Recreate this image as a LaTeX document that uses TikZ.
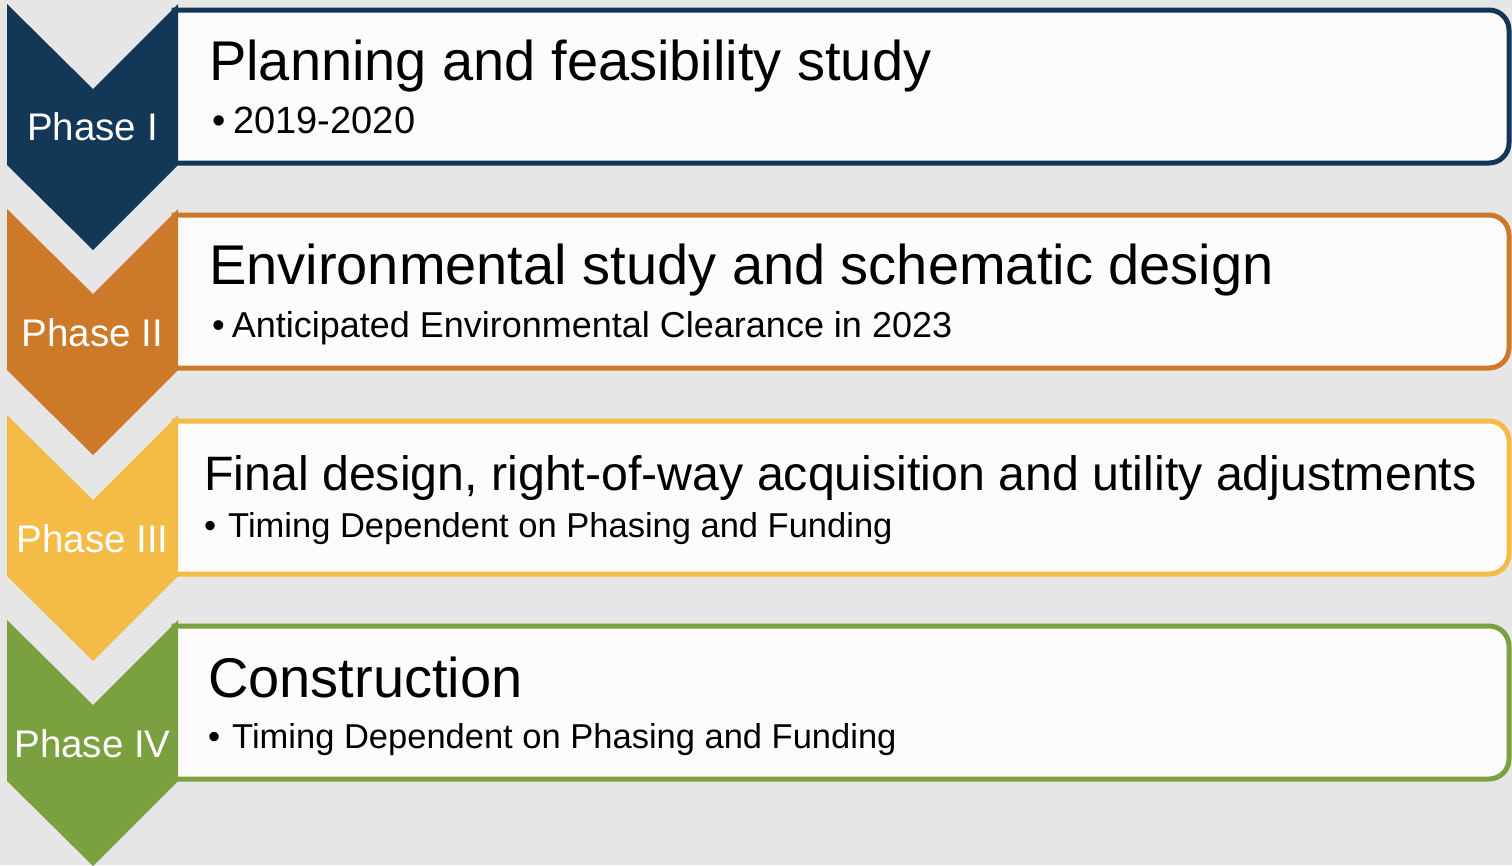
\documentclass[tikz,border=0pt]{standalone}
\usepackage{fontspec}
\setmainfont{Liberation Sans}
\usepackage{tikz}

\definecolor{phaseone}{HTML}{133757}
\definecolor{phasetwo}{HTML}{CC7A2A}
\definecolor{phasethree}{HTML}{F4BB47}
\definecolor{phasefour}{HTML}{7AA040}
\definecolor{backgray}{HTML}{E6E6E6}
\definecolor{boxwhite}{HTML}{FCFCFC}

\tikzset{
  chevron/.style={fill=#1, draw=none},
  stagebox/.style={draw=#1, fill=boxwhite, line width=5pt},
  phaselabel/.style={anchor=base, inner sep=0pt, text=white, font=\fontsize{38.5}{42}\selectfont},
  stagetitle/.style={anchor=base west, inner sep=0pt, font=\fontsize{56}{60}\selectfont},
  stagesub/.style={anchor=base west, inner sep=0pt, font=\fontsize{36}{40}\selectfont}
}

\begin{document}
\begin{tikzpicture}[x=1pt,y=-1pt]
  \useasboundingbox (0,0) rectangle (1512,865);
  \fill[backgray] (0,0) rectangle (1512,865);

  % boxes, right corners rounded
  \draw[stagebox=phaseone] (174,10) [rounded corners=20pt] -- (1509,10) -- (1509,163) [sharp corners] -- (174,163) -- cycle;
  \draw[stagebox=phasetwo] (174,215) [rounded corners=20pt] -- (1509,215) -- (1509,368) [sharp corners] -- (174,368) -- cycle;
  \draw[stagebox=phasethree] (174,421) [rounded corners=20pt] -- (1509,421) -- (1509,574) [sharp corners] -- (174,574) -- cycle;
  \draw[stagebox=phasefour] (174,626) [rounded corners=20pt] -- (1509,626) -- (1509,779) [sharp corners] -- (174,779) -- cycle;

  % chevrons
  \fill[chevron=phaseone] (7,4) -- (93,89) -- (178,4) -- (178,165) -- (93,250) -- (7,165) -- cycle;
  \fill[chevron=phasetwo] (7,209) -- (93,294) -- (178,209) -- (178,370) -- (93,455) -- (7,370) -- cycle;
  \fill[chevron=phasethree] (7,415) -- (93,500) -- (178,415) -- (178,576) -- (93,661) -- (7,576) -- cycle;
  \fill[chevron=phasefour] (7,620) -- (93,705) -- (178,620) -- (178,781) -- (93,866) -- (7,781) -- cycle;

  \node[phaselabel] (p1) at (92.5,140) {Phase I};
  \node[phaselabel] (p2) at (92.5,346) {Phase II};
  \node[phaselabel] (p3) at (92.5,552) {Phase III};
  \node[phaselabel] (p4) at (92.5,757) {Phase IV};

  \node[stagetitle] (t1) at (209,80) {Planning and feasibility study};
  \node[stagesub, font=\fontsize{38}{42}\selectfont] (s1) at (212,133) {\textbullet\hspace{8pt}2019-2020};
  \node[stagetitle] (t2) at (209,284) {Environmental study and schematic design};
  \node[stagesub] (s2) at (212,337) {\textbullet\hspace{7pt}Anticipated Environmental Clearance in 2023};
  \node[stagetitle, font=\fontsize{48.3}{52}\selectfont] (t3) at (204,490) {Final design, right-of-way acquisition and utility adjustments};
  \node[stagesub, font=\fontsize{34.5}{38}\selectfont] (s3) at (204,537) {\textbullet\hspace{12pt}Timing Dependent on Phasing and Funding};
  \node[stagetitle] (t4) at (208,697) {Construction};
  \node[stagesub, font=\fontsize{34.5}{38}\selectfont] (s4) at (208,748) {\textbullet\hspace{12pt}Timing Dependent on Phasing and Funding};
\end{tikzpicture}
\end{document}
